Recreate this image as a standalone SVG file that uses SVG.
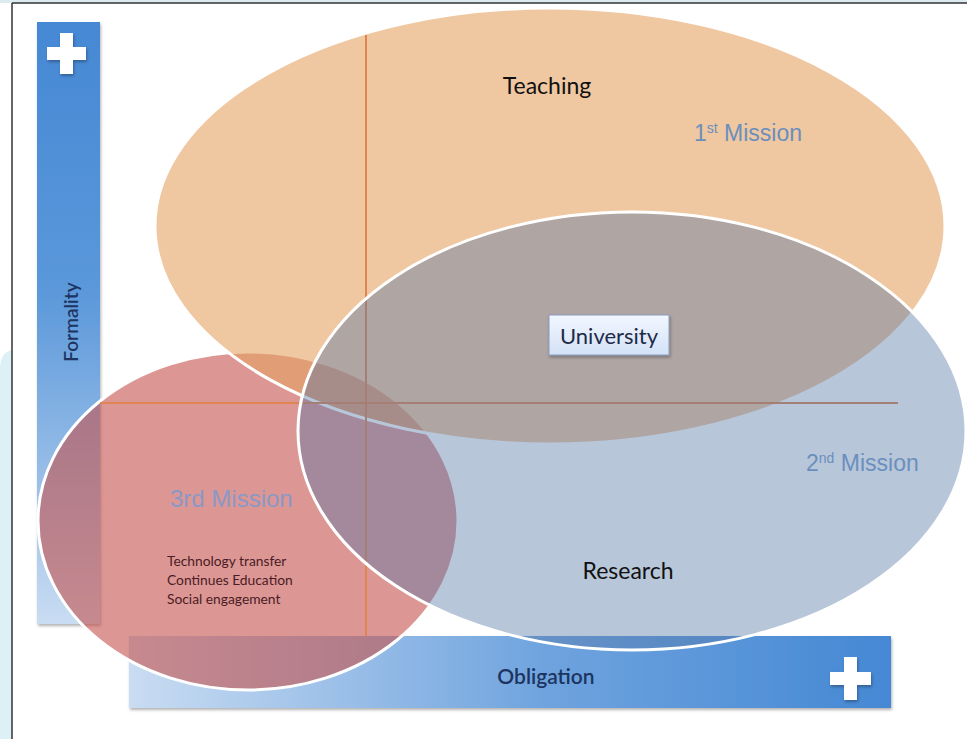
<svg xmlns="http://www.w3.org/2000/svg" width="967" height="739" viewBox="0 0 967 739">
<defs>
<linearGradient id="gv" x1="0" y1="0" x2="0" y2="1">
<stop offset="0" stop-color="#4588d4"/>
<stop offset="0.45" stop-color="#5b98da"/>
<stop offset="1" stop-color="#c9dcf2"/>
</linearGradient>
<linearGradient id="gh" x1="0" y1="0" x2="1" y2="0">
<stop offset="0" stop-color="#c9dcf2"/>
<stop offset="0.55" stop-color="#6ea3de"/>
<stop offset="1" stop-color="#4588d4"/>
</linearGradient>
<linearGradient id="gu" x1="0" y1="0" x2="0" y2="1">
<stop offset="0" stop-color="#f2f7ff"/>
<stop offset="1" stop-color="#d3e2f7"/>
</linearGradient>
<filter id="sh" x="-10%" y="-10%" width="130%" height="130%">
<feDropShadow dx="1" dy="2" stdDeviation="1.5" flood-color="#000" flood-opacity="0.3"/>
</filter>
</defs>
<style>
.lbl{font-family:Lato,"Open Sans","Liberation Sans",sans-serif;}
.mis{font-family:"Liberation Sans",Arial,sans-serif;font-size:23px;fill:#6b8fbd;}
.ell{stroke:#ffffff;stroke-width:3;}
.cross{fill:#ffffff;filter:url(#sh);}
.axl{stroke:#de8552;stroke-width:2;fill:none;}
</style>
<rect width="967" height="739" fill="#ffffff"/>
<rect x="0" y="0" width="967" height="3" fill="#dcebef"/>
<path d="M0,370 Q0,352 12,350 L12,739 L0,739 Z" fill="#ddf0f6"/>
<line x1="12" y1="3" x2="12" y2="739" stroke="#333" stroke-width="1.5"/>
<line x1="12" y1="3" x2="967" y2="3" stroke="#333" stroke-width="1.5"/>

<g id="formality-axis">
<rect x="37" y="22" width="63" height="602" fill="url(#gv)" filter="url(#sh)"/>
<path class="cross" d="M60,33 h13 v14 h13 v13 h-13 v14 h-13 v-14 h-13 v-13 h13 z"/>
<text class="lbl" x="78" y="322" transform="rotate(-90 78 322)" text-anchor="middle" font-size="19" font-weight="600" fill="#1d3461">Formality</text>
</g>
<g id="obligation-axis">
<rect x="129" y="636" width="762" height="72" fill="url(#gh)" filter="url(#sh)"/>
<path class="cross" d="M844,657 h13 v15 h14 v13 h-14 v15 h-13 v-15 h-14 v-13 h14 z"/>
<text class="lbl" x="546" y="684" text-anchor="middle" font-size="21" font-weight="600" fill="#1d3461">Obligation</text>
</g>

<g id="third-mission">
<ellipse class="ell" cx="248" cy="521" rx="210" ry="169" fill="#c4514d" fill-opacity="0.6"/>
</g>
<g id="teaching">
<ellipse class="ell" cx="550" cy="226" rx="395" ry="218" fill="#e4a262" fill-opacity="0.6"/>
</g>
<g id="connectors">
<line class="axl" x1="366" y1="35" x2="366" y2="636"/>
<line class="axl" x1="100" y1="403" x2="898" y2="403"/>
</g>
<g id="research">
<ellipse class="ell" cx="632" cy="431" rx="334" ry="219" fill="#5577a8" fill-opacity="0.42"/>
</g>

<g id="labels">
<text class="lbl" x="547" y="94" text-anchor="middle" font-size="23" fill="#111">Teaching</text>
<text class="mis" x="694" y="141">1<tspan font-size="14" dy="-8">st</tspan><tspan dy="8"> Mission</tspan></text>
<text class="mis" x="806" y="471">2<tspan font-size="14" dy="-8">nd</tspan><tspan dy="8">  Mission</tspan></text>
<text class="mis" x="170" y="507" style="fill:#8a98c8;font-size:24px">3rd Mission</text>
<text class="lbl" x="167" y="566" font-size="13.8" fill="#4a1b25">Technology transfer</text>
<text class="lbl" x="167" y="585" font-size="13.8" fill="#4a1b25">Continues Education</text>
<text class="lbl" x="167" y="604" font-size="13.8" fill="#4a1b25">Social engagement</text>
<text class="lbl" x="628" y="579" text-anchor="middle" font-size="23" fill="#111">Research</text>
</g>
<g id="university">
<rect x="549" y="315" width="120" height="40" fill="url(#gu)" stroke="#8a9cbc" stroke-width="1" filter="url(#sh)"/>
<text class="lbl" x="609" y="344" text-anchor="middle" font-size="22" fill="#1e2b48">University</text>
</g>
</svg>
